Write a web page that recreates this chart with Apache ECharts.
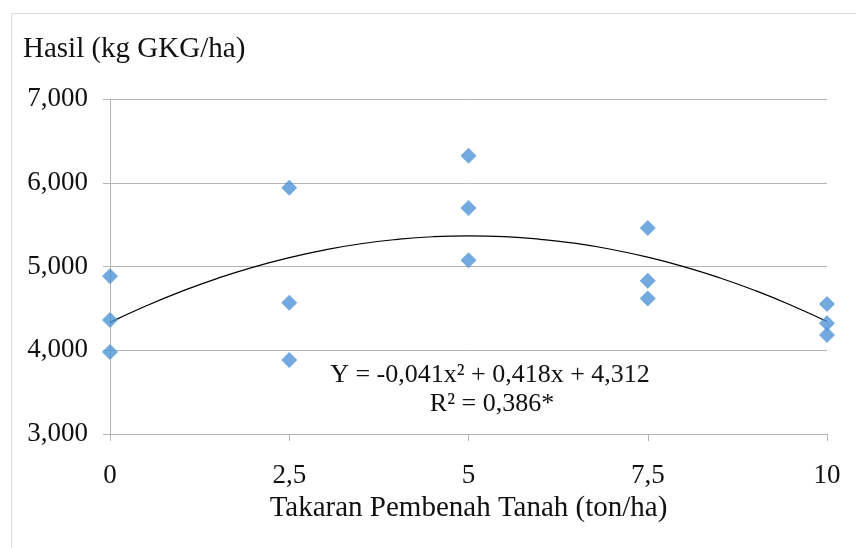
<!DOCTYPE html>
<html>
<head>
<meta charset="utf-8">
<script src="https://cdn.jsdelivr.net/npm/echarts@6/dist/echarts.min.js"></script>
<style>
html,body{margin:0;padding:0;background:#fff;}
#chart{width:856px;height:548px;}
</style>
</head>
<body>
<div id="chart"></div>
<script>
// Observed points: dose (ton/ha) and yield (kg GKG/ha)
const doseX = [0, 0, 0, 2.5, 2.5, 2.5, 5, 5, 5, 7.5, 7.5, 7.5, 10, 10, 10];
const yieldY = [4885, 4361, 3980, 5940, 4567, 3885, 6321, 5699, 5076, 5461, 4830, 4619, 4551, 4321, 4182];

// Trend curve
const trendX = [0, 0.5, 1, 1.5, 2, 2.5, 3, 3.5, 4, 4.5, 5, 5.5, 6, 6.5, 7, 7.5, 8, 8.5, 9, 9.5, 10];
const trendY = [4333, 4529, 4704, 4859, 4993, 5106, 5199, 5272, 5323, 5355, 5366, 5356, 5325, 5275, 5203, 5111, 4999, 4866, 4712, 4538, 4343];

const yTicks = [3000, 4000, 5000, 6000, 7000];
const xTicks = [0, 2.5, 5, 7.5, 10];

const yTitle = 'Hasil (kg GKG/ha)';
const xTitle = 'Takaran Pembenah Tanah (ton/ha)';
const eqLine1 = 'Y = -0,041x² + 0,418x + 4,312';
const eqLine2 = 'R² = 0,386*';

const FONT = '"Liberation Serif", "Times New Roman", serif';
const GRIDC = '#B5B5B5';

const chart = echarts.init(document.getElementById('chart'), null, {renderer: 'canvas'});
chart.setOption({
  backgroundColor: '#ffffff',
  animation: false,
  grid: {left: 110, right: 29, top: 99, bottom: 114, containLabel: false},
  xAxis: {
    type: 'value',
    min: xTicks[0], max: xTicks[xTicks.length - 1], interval: 2.5,
    name: xTitle, nameLocation: 'middle', nameGap: 46,
    nameTextStyle: {fontFamily: FONT, fontSize: 29, color: '#111'},
    axisLine: {show: true, lineStyle: {color: GRIDC, width: 1}},
    axisTick: {show: true, inside: false, length: 7, lineStyle: {color: GRIDC}},
    axisLabel: {
      margin: 28, fontFamily: FONT, fontSize: 27, color: '#111',
      formatter: v => String(v).replace('.', ',')
    },
    splitLine: {show: false}
  },
  yAxis: {
    type: 'value',
    min: yTicks[0], max: yTicks[yTicks.length - 1], interval: 1000,
    axisLine: {show: true, lineStyle: {color: GRIDC, width: 1}},
    axisTick: {show: true, inside: false, length: 7, lineStyle: {color: GRIDC}},
    axisLabel: {
      margin: 22, fontFamily: FONT, fontSize: 27, color: '#111',
      formatter: v => v.toLocaleString('en-US')
    },
    splitLine: {show: true, lineStyle: {color: GRIDC, width: 1}}
  },
  title: {
    text: yTitle, left: 18, top: 30,
    textStyle: {fontFamily: FONT, fontSize: 29, fontWeight: 'normal', color: '#111'}
  },
  graphic: [
    {type: 'rect', shape: {x: 11.5, y: 13.5, width: 900, height: 600}, style: {fill: 'none', stroke: '#DADADA', lineWidth: 1}, z: -1, silent: true},
    {type: 'text', x: 490, y: 362, style: {text: eqLine1, font: '26px ' + FONT, fill: '#111', textAlign: 'center', textVerticalAlign: 'top'}},
    {type: 'text', x: 492, y: 391, style: {text: eqLine2, font: '26px ' + FONT, fill: '#111', textAlign: 'center', textVerticalAlign: 'top'}}
  ],
  series: [
    {
      type: 'line',
      data: trendX.map((x, i) => [x, trendY[i]]),
      smooth: true,
      showSymbol: false,
      symbol: 'none',
      lineStyle: {color: '#000', width: 1.2},
      z: 2
    },
    {
      type: 'scatter',
      data: doseX.map((x, i) => [x, yieldY[i]]),
      symbol: 'diamond',
      symbolSize: 16,
      itemStyle: {color: '#4F93D6'},
      z: 3
    }
  ]
});
</script>
</body>
</html>
